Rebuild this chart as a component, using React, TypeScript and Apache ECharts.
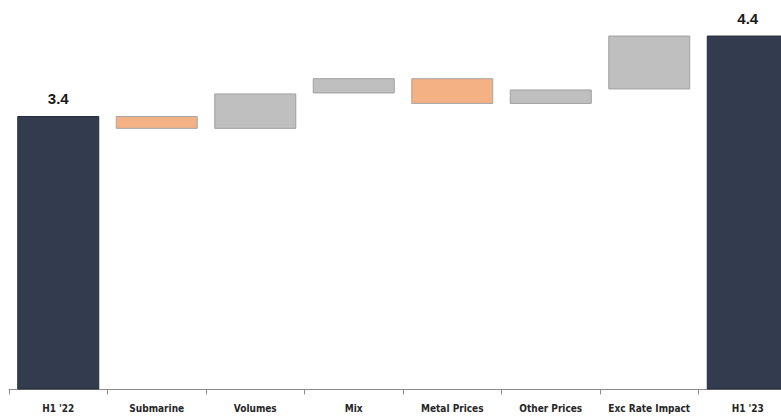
import React, { useEffect, useRef } from "react";
import * as echarts from "echarts";

const categories = ["H1 '22", "Submarine", "Volumes", "Mix", "Metal Prices", "Other Prices", "Exc Rate Impact", "H1 '23"];
const startValue = 3.4;
const deltas = [-0.16, 0.44, 0.19, -0.32, 0.18, 0.67];
const endValue = 4.4;

const NAVY = "#323c4e";
const ORANGE = "#f4b183";
const GREY = "#bfbfbf";

export default function App() {
  const ref = useRef<HTMLDivElement>(null);
  useEffect(() => {
    if (!ref.current) return;
    const chart = echarts.init(ref.current, null, { renderer: "svg" });

    const base: number[] = [0];
    const vis: any[] = [];
    vis.push({ value: startValue, itemStyle: { color: NAVY, borderColor: "#262d3a" }, label: { show: true } });
    let run = startValue;
    deltas.forEach((d) => {
      const next = run + d;
      base.push(Math.min(run, next));
      vis.push({
        value: Math.abs(d),
        itemStyle: d < 0 ? { color: ORANGE, borderColor: "#a6a6a6" } : { color: GREY, borderColor: "#a0a0a0" },
        label: { show: false },
      });
      run = next;
    });
    base.push(0);
    vis.push({ value: endValue, itemStyle: { color: NAVY, borderColor: "#262d3a" }, label: { show: true } });

    chart.setOption({
      animation: false,
      grid: { left: 9, width: 788, top: 27.5, height: 362, containLabel: false },
      xAxis: {
        type: "category",
        data: categories,
        axisLine: { show: true, lineStyle: { color: "#8c8c8c", width: 1 } },
        axisTick: { show: true, length: 5, lineStyle: { color: "#8c8c8c" } },
        axisLabel: {
          color: "#262626",
          fontFamily: "'DejaVu Sans Condensed', 'Liberation Sans Narrow', sans-serif",
          fontWeight: "bold",
          fontSize: 10,
          margin: 14,
          interval: 0,
        },
      },
      yAxis: { type: "value", min: 0, max: 4.5, show: false, splitLine: { show: false } },
      series: [
        {
          type: "bar",
          stack: "w",
          data: base,
          itemStyle: { color: "transparent", borderColor: "transparent" },
          barWidth: 82,
          silent: true,
        },
        {
          type: "bar",
          stack: "w",
          data: vis,
          barWidth: 82,
          itemStyle: { borderWidth: 1 },
          label: {
            position: "top",
            distance: 10,
            fontFamily: "'Liberation Sans', Arial, sans-serif",
            fontWeight: "bold",
            fontSize: 15,
            color: "#1a1a1a",
            formatter: (p: any) => p.value.toFixed(1),
          },
        },
      ],
    });
    return () => chart.dispose();
  }, []);
  return (
    <div style={{ position: "fixed", left: 0, top: 0, width: 781, height: 417, overflow: "hidden", background: "#fff" }}>
      <div ref={ref} style={{ width: 800, height: 417 }} />
    </div>
  );
}
